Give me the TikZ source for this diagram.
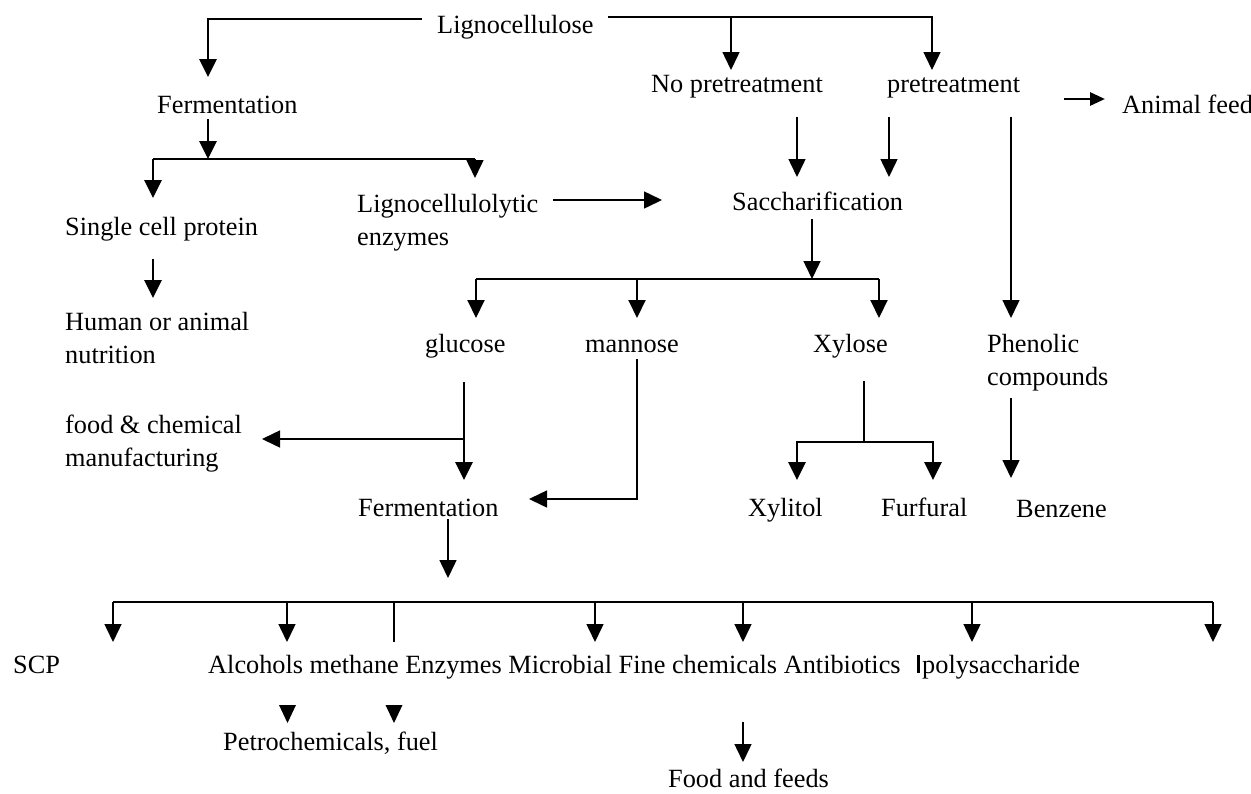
\documentclass[tikz,border=0pt]{standalone}
\usepackage{fontspec}
\setmainfont{Liberation Serif}
\usetikzlibrary{arrows.meta}
\newcommand\twolines[2]{\begin{tabular}[t]{@{}l@{}}#1\\#2\end{tabular}}
\begin{document}
\begin{tikzpicture}[x=1pt,y=-1pt,
  lbl/.style={anchor=base west,inner sep=0pt,font=\fontsize{26.3}{33.5}\selectfont},
  ln/.style={line width=1.5pt},
  mid/.style={line width=2pt},
  thk/.style={line width=2.8pt},
  arr/.style={-{Triangle[width=17pt,length=18pt]}},
  sarr/.style={-{Triangle[width=13pt,length=15pt]}},
  tri/.style={fill=black}]
\useasboundingbox (0,0) rectangle (1251,793);
% labels
\node[lbl] (lig) at (437,33) {Lignocellulose};
\node[lbl] (fer1) at (157,113) {Fermentation};
\node[lbl] (nopre) at (651,92) {No pretreatment};
\node[lbl] (pre) at (887,92) {pretreatment};
\node[lbl] (feed) at (1122,113) {Animal feed};
\node[lbl] (scp1) at (65,235) {Single cell protein};
\node[lbl] (lcel) at (357,212) {\twolines{Lignocellulolytic}{enzymes}};
\node[lbl] (sacc) at (732,210) {Saccharification};
\node[lbl] (hum) at (65,330) {\twolines{Human or animal}{nutrition}};
\node[lbl] (glu) at (425,352) {glucose};
\node[lbl] (man) at (585,352) {mannose};
\node[lbl] (xyl) at (813,352) {Xylose};
\node[lbl] (phe) at (987,352) {\twolines{Phenolic}{compounds}};
\node[lbl] (food) at (65,433) {\twolines{food \& chemical}{manufacturing}};
\node[lbl] (fer2) at (358,516) {Fermentation};
\node[lbl] (xylt) at (748,516) {Xylitol};
\node[lbl] (furf) at (881,516) {Furfural};
\node[lbl] (benz) at (1016,517) {Benzene};
\node[lbl] (scp) at (13,673) {SCP};
\node[lbl] (prod) at (208,673) {Alcohols methane Enzymes Microbial Fine chemicals Antibiotics};
\node[lbl] (poly) at (922,673) {polysaccharide};
\node[lbl] (petro) at (223,750) {Petrochemicals, fuel};
\node[lbl] (ff) at (668,787) {Food and feeds};
% junction coordinates
\coordinate (j1) at (422,19);
\coordinate (j2) at (608,17);
\coordinate (j3) at (731,17);
\coordinate (j4) at (153,159);
\coordinate (j5) at (475,159);
\coordinate (j6) at (476,279);
\coordinate (j7) at (637,279);
\coordinate (j8) at (879,279);
\coordinate (j9) at (864,442);
\coordinate (j10) at (113,602);
\coordinate (j11) at (1213,602);
% connectors
\draw[thk,arr] (j1) -| (208,77);
\draw[ln,arr] (j2) -| (932,70);
\draw[ln,arr] (j3) -- (731,70);
\draw[thk,arr] (208,119) -- (208,159);
\draw[ln] (j4) -- (j5);
\draw[thk,arr] (j4) -- (153,198);
\draw[ln,arr] (j5) -- (475,178);
\draw[thk,arr] (153,259) -- (153,298);
\draw[ln,arr] (553,200) -- (662,200);
\draw[ln,arr] (797,117) -- (797,177);
\draw[ln,arr] (889,117) -- (889,177);
\draw[ln,arr] (1011,117) -- (1011,318);
\draw[thk,sarr] (1064,99) -- (1105,99);
\draw[ln,arr] (812,219) -- (812,279);
\draw[ln] (j6) -- (j8);
\draw[mid,arr] (j6) -- (476,318);
\draw[mid,arr] (j7) -- (637,318);
\draw[mid,arr] (j8) -- (879,318);
\draw[thk,arr] (464,382) -- (464,480);
\draw[ln,arr] (463,439) -- (262,439);
\draw[ln,arr] (637,359) |- (529,499);
\draw[ln,arr] (448,519) -- (448,578);
\draw[thk] (864,381) -- (j9);
\draw[thk,arr] (j9) -| (797,480);
\draw[thk,arr] (j9) -| (933,480);
\draw[ln,arr] (1011,398) -- (1011,478);
\draw[mid] (j10) -- (j11);
\foreach \x in {113,287,595,743,972,1213}
  \draw[ln,arr] (\x,602) -- (\x,642);
\draw[ln] (394,602) -- (394,642);
\draw[ln,arr] (743,722) -- (743,762);
\draw[line width=3pt] (918,655) -- (918,673);
\fill[tri] (279,705) -- (296,705) -- (287.5,723) -- cycle;
\fill[tri] (385.5,705) -- (402.5,705) -- (394,723) -- cycle;
\end{tikzpicture}
\end{document}
